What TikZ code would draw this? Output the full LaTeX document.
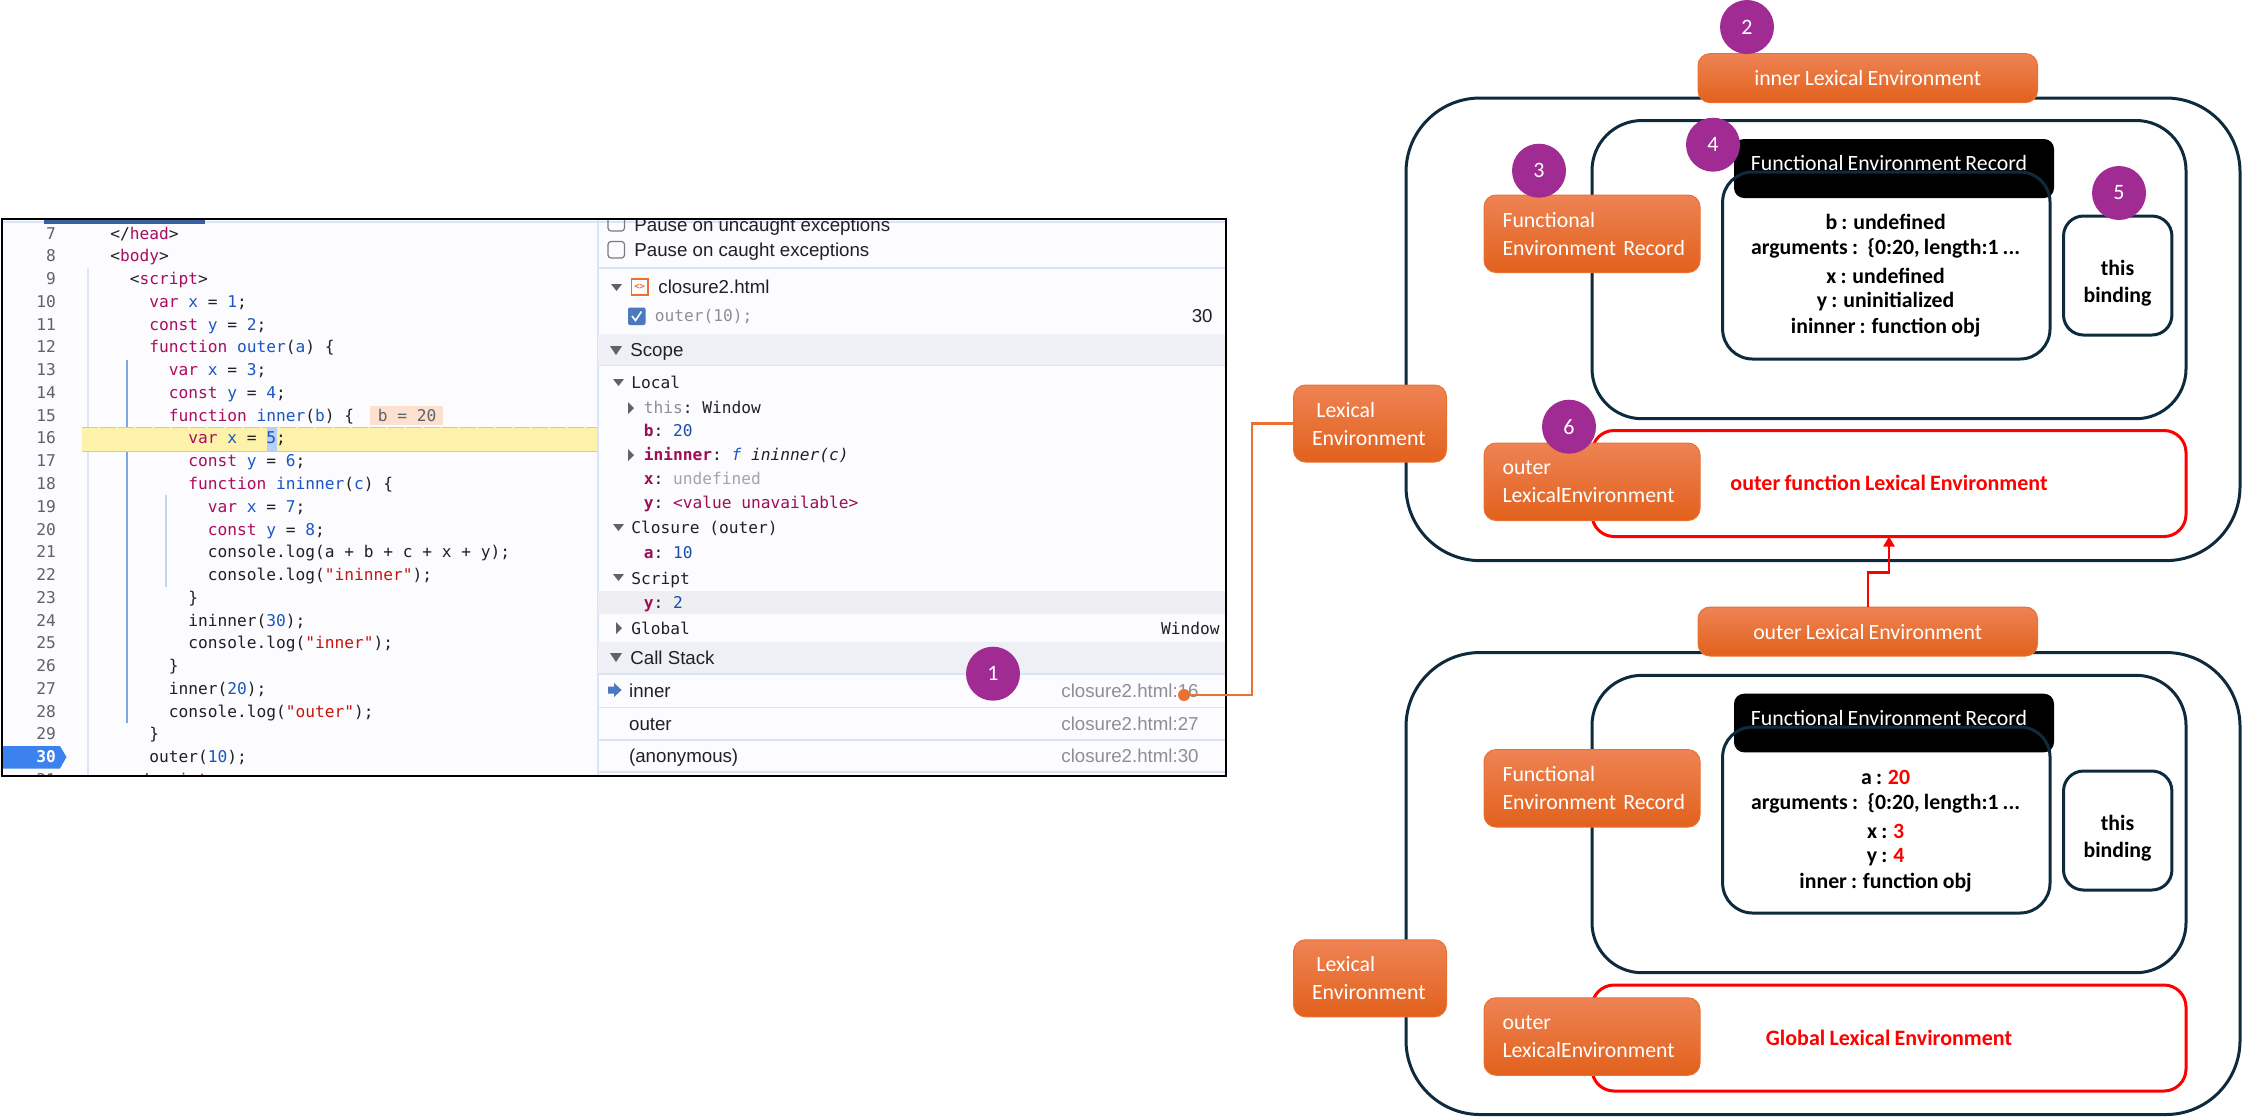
\documentclass[tikz,border=0pt]{standalone}
\usepackage{fontspec}
\setmainfont{Carlito}[WordSpace=0.85]
\setmonofont{DejaVu Sans Mono}
\newfontfamily\uifont{Liberation Sans}
\usetikzlibrary{arrows.meta}
\definecolor{navy}{HTML}{0E2B3E}
\definecolor{plum}{HTML}{A02B93}
\definecolor{orgA}{HTML}{EE8354}
\definecolor{orgB}{HTML}{F2702A}
\definecolor{orgC}{HTML}{E2611C}
\definecolor{orgL}{HTML}{E97132}
\definecolor{panelbg}{HTML}{FCFBFE}
\definecolor{sep}{HTML}{D9E4F6}
\definecolor{hdr}{HTML}{EEF0F6}
\definecolor{kwc}{HTML}{AA0D5F}
\definecolor{vrc}{HTML}{1A56C4}
\definecolor{stc}{HTML}{C4160F}
\definecolor{ink}{HTML}{202124}
\definecolor{numc}{HTML}{5F6368}
\definecolor{greyt}{HTML}{8E8E93}
\definecolor{scopekey}{HTML}{9B0F55}
\definecolor{scrollc}{HTML}{3A5F9E}
\definecolor{guideA}{HTML}{DCE6F5}
\definecolor{guideB}{HTML}{7FA8E0}
\definecolor{guideC}{HTML}{C5D7F0}
\definecolor{hlfill}{HTML}{FEF2AB}
\definecolor{hlline}{HTML}{F7CF25}
\definecolor{selc}{HTML}{B8D0F5}
\definecolor{chipc}{HTML}{FDE0D0}
\definecolor{bpc}{HTML}{3B82EE}
\definecolor{chkc}{HTML}{4D78BE}
\definecolor{numblue}{HTML}{1A4FA8}
\definecolor{rowc}{HTML}{EFEFF3}
\newcommand\ckw[1]{\textcolor{kwc}{#1}}
\newcommand\cvr[1]{\textcolor{vrc}{#1}}
\newcommand\cst[1]{\textcolor{stc}{#1}}
\newcommand\codeln[3]{%
  \node[lnum] (n#1) at (56.4,{239+22.77*(#1-7)}) {#1};
  \node[codet] (c#1) at ({110+9.75*#2},{239+22.77*(#1-7)}) {#3};}
\tikzset{
  lnum/.style={anchor=base east,inner sep=0,text=numc,font=\fontsize{8.1}{10}\ttfamily},
  codet/.style={anchor=base west,inner sep=0,text=ink,font=\fontsize{8.1}{10}\ttfamily},
  monoR/.style={anchor=base west,inner sep=0,text=ink,font=\fontsize{8.1}{10}\ttfamily},
  uit/.style={anchor=base west,inner sep=0,text=ink,font=\fontsize{9.35}{11}\uifont},
  uir/.style={anchor=base east,inner sep=0,text=greyt,font=\fontsize{9.35}{11}\uifont},
  obox/.style={rectangle,rounded corners=6pt,draw=orgL,line width=.5pt,top color=orgA,middle color=orgB,bottom color=orgC,text=white,inner sep=0,outer sep=0,font=\fontsize{10.9}{14}\selectfont},
  frameB/.style={rectangle,draw=navy,line width=1.5pt,inner sep=0,outer sep=0},
  frameR/.style={rectangle,draw=red,line width=1.5pt,rounded corners=11pt,inner sep=0,outer sep=0,minimum width=297pt,minimum height=53pt},
  blk/.style={rectangle,fill=black,rounded corners=5pt,inner sep=0,outer sep=0,minimum width=160pt},
  num/.style={circle,fill=plum,text=white,minimum size=27pt,inner sep=0,outer sep=0,font=\fontsize{11}{12}\selectfont},
  body/.style={inner sep=0,text=black,font=\fontsize{10.9}{13}\bfseries},
  sepl/.style={draw=sep,line width=.9pt},
  tri/.style={fill=numc}
}
\begin{document}
\begin{tikzpicture}[x=0.5pt,y=-0.5pt]
\useasboundingbox (0,0) rectangle (2242,1116);
% ---------- debugger panel
\begin{scope}
\clip (2,219) rectangle (1226,776);
\fill[panelbg] (2,219) rectangle (1226,776);
\draw[sepl] (2,222) -- (1226,222);
\fill[scrollc] (44,220) rectangle (205,224);
% gutter guides
\draw[guideA,line width=.6pt] (88,268) -- (88,776);
\draw[guideB,line width=.7pt] (127,360) -- (127,723);
\draw[guideC,line width=.7pt] (166,495) -- (166,587);
% highlighted line
\fill[hlfill] (82,427) rectangle (597,451.5);
\draw[hlline,line width=.5pt,dash pattern=on 8pt off 1pt] (82,427) -- (597,427);
\draw[hlline,line width=.8pt] (82,451.5) -- (597,451.5);
\fill[selc] (266.5,428) rectangle (276.6,450.5);
\node[rectangle,fill=chipc,inner sep=0,minimum width=36.7pt,minimum height=9.5pt,outer sep=0] (chip) at (406.5,415) {};
\node[codet,text=numc] (chiptxt) at (377.4,421) {b = 20};
% breakpoint marker
\fill[bpc] (2,746) -- (60,746) -- (66.5,757) -- (60,768.5) -- (2,768.5) -- cycle;
\codeln{7}{0}{</\ckw{head}>}
\codeln{8}{0}{<\ckw{body}>}
\codeln{9}{2}{<\ckw{script}>}
\codeln{10}{4}{\ckw{var} \cvr{x} = \cvr{1};}
\codeln{11}{4}{\ckw{const} \cvr{y} = \cvr{2};}
\codeln{12}{4}{\ckw{function} \cvr{outer}(\cvr{a}) \{}
\codeln{13}{6}{\ckw{var} \cvr{x} = \cvr{3};}
\codeln{14}{6}{\ckw{const} \cvr{y} = \cvr{4};}
\codeln{15}{6}{\ckw{function} \cvr{inner}(\cvr{b}) \{}
\codeln{16}{8}{\ckw{var} \cvr{x} = \cvr{5};}
\codeln{17}{8}{\ckw{const} \cvr{y} = \cvr{6};}
\codeln{18}{8}{\ckw{function} \cvr{ininner}(\cvr{c}) \{}
\codeln{19}{10}{\ckw{var} \cvr{x} = \cvr{7};}
\codeln{20}{10}{\ckw{const} \cvr{y} = \cvr{8};}
\codeln{21}{10}{console.log(a + b + c + x + y);}
\codeln{22}{10}{console.log(\cst{"ininner"});}
\codeln{23}{8}{\}}
\codeln{24}{8}{ininner(\cvr{30});}
\codeln{25}{8}{console.log(\cst{"inner"});}
\codeln{26}{6}{\}}
\codeln{27}{6}{inner(\cvr{20});}
\codeln{28}{6}{console.log(\cst{"outer"});}
\codeln{29}{4}{\}}
\node[lnum,text=white,font=\fontsize{8.1}{10}\ttfamily\bfseries] (n30) at (56.4,762.7) {30};
\node[codet] (c30) at (149,762.7) {outer(\cvr{10});};
\codeln{31}{2}{</\ckw{script}>}
% right pane
\fill[panelbg] (598,219) rectangle (1226,776);
\draw[sepl] (598,222) -- (1226,222);
\draw[sepl] (597.6,219) -- (597.6,776);
\draw[ink!60,line width=.6pt,rounded corners=1.5pt] (608,215) rectangle (624.5,231);
\draw[ink!60,line width=.6pt,rounded corners=1.5pt] (608,241.5) rectangle (624.5,258);
\node[uit] (p1) at (634,231) {Pause on uncaught exceptions};
\node[uit] (p2) at (634,256.5) {Pause on caught exceptions};
\draw[sepl] (598,268) -- (1226,268);
\fill[tri] (611,284) -- (622,284) -- (616.5,291) -- cycle;
\draw[orgL,line width=.6pt] (631.5,279) rectangle (648,295);
\node[inner sep=0,text=orgL,font=\fontsize{4.5}{5}\ttfamily\bfseries] (icon) at (639.7,286.5) {<>};
\node[uit] (file) at (658,293) {closure2.html};
\fill[chkc,rounded corners=1pt] (628,307.5) rectangle (645.5,325);
\draw[white,line width=.8pt] (632,316) -- (635.5,320.5) -- (641.5,311.5);
\node[monoR,text=greyt] (watch) at (654.4,321.5) {outer(10);};
\node[uir,text=ink] (watchnum) at (1213,322) {30};
% scope header
\fill[hdr] (598,334) rectangle (1226,365.5);
\draw[sepl] (598,365.5) -- (1226,365.5);
\fill[tri] (610,346) -- (622,346) -- (616,355) -- cycle;
\node[uit] (scope) at (630,356) {Scope};
\fill[tri] (613,379) -- (624,379) -- (618.5,386) -- cycle;
\node[monoR] (local) at (631,388.6) {Local};
\fill[tri] (628,402) -- (634,408) -- (628,414) -- cycle;
\node[monoR] (sthis) at (643.5,413.4) {\textcolor{greyt}{this}: Window};
\node[monoR] (sb) at (643.5,436.7) {\textcolor{scopekey}{\bfseries b}: \textcolor{numblue}{20}};
\fill[tri] (628,449) -- (634,455) -- (628,461) -- cycle;
\node[monoR] (sin) at (643.5,460.4) {\textcolor{scopekey}{\bfseries ininner}: \textcolor{vrc}{\itshape f} \textit{ininner(c)}};
\node[monoR] (sx) at (643.5,484) {\textcolor{scopekey}{\bfseries x}: \textcolor{greyt!80!white}{undefined}};
\node[monoR] (sy) at (643.5,508) {\textcolor{scopekey}{\bfseries y}: \textcolor{scopekey}{<value unavailable>}};
\fill[tri] (613,524) -- (624,524) -- (618.5,531) -- cycle;
\node[monoR] (closure) at (631,533.4) {Closure (outer)};
\node[monoR] (sa) at (643.5,558) {\textcolor{scopekey}{\bfseries a}: \textcolor{numblue}{10}};
\fill[tri] (613,574) -- (624,574) -- (618.5,581) -- cycle;
\node[monoR] (script) at (631,584) {Script};
\fill[rowc] (598,590.7) rectangle (1226,613.7);
\node[monoR] (sy2) at (643.5,608) {\textcolor{scopekey}{\bfseries y}: \textcolor{numblue}{2}};
\fill[tri] (616,622) -- (622,628) -- (616,634) -- cycle;
\node[monoR] (global) at (631,634) {Global};
\node[monoR,anchor=base east] (window) at (1220,634) {Window};
% call stack
\fill[hdr] (598,641.5) rectangle (1226,673.7);
\draw[sepl] (598,673.7) -- (1226,673.7);
\fill[tri] (610,653) -- (622,653) -- (616,662) -- cycle;
\node[uit] (cstack) at (630,664) {Call Stack};
\fill[chkc] (608,686.5) -- (614,686.5) -- (614,683) -- (621.6,690) -- (614,697) -- (614,693.5) -- (608,693.5) -- cycle;
\node[uit] (s1) at (628.7,697.5) {inner};
\node[uir] (s1r) at (1199,697.5) {closure2.html:16};
\draw[sepl] (598,707.4) -- (1226,707.4);
\node[uit] (s2) at (628.7,730) {outer};
\node[uir] (s2r) at (1199,730) {closure2.html:27};
\draw[sepl] (598,739.6) -- (1226,739.6);
\node[uit] (s3) at (628.7,762) {(anonymous)};
\node[uir] (s3r) at (1199,762) {closure2.html:30};
\draw[sepl] (598,772) -- (1226,772);
\end{scope}
\node[rectangle,draw=black,line width=1.2pt,minimum width=612pt,minimum height=278.5pt,inner sep=0,outer sep=0] (panel) at (614,497.5) {};
\node[num] (c1) at (993,673.7) {1};
\node[circle,fill=orgL,minimum size=6pt,inner sep=0,outer sep=0] (dot) at (1184,695) {};
% ---------- top environment
\node[frameB,rounded corners=37pt,minimum width=417pt,minimum height=231.3pt] (bigA) at (1823,329.3) {};
\node[frameB,rounded corners=25pt,minimum width=297pt,minimum height=149.1pt] (midA) at (1889,269.6) {};
\node[blk,minimum height=29.5pt] (blkA) at (1894,168.5) {};
\node[inner sep=0,text=white,font=\fontsize{10.9}{13}\selectfont] (blkAt) at (1889,162.6) {Functional Environment Record};
\node[frameB,rounded corners=15pt,minimum width=163.7pt,minimum height=93.5pt] (recA) at (1886.3,265.5) {};
\node[body] (a1) at (1885.6,222) {b : undefined};
\node[body] (a2) at (1885.6,248) {arguments :\, \{0:20, length:1 ...};
\node[body] (a3) at (1885.6,276) {x : undefined};
\node[body] (a4) at (1885.6,302) {y : uninitialized};
\node[body] (a5) at (1885.6,328) {ininner : function obj};
\node[frameB,rounded corners=10pt,minimum width=54.2pt,minimum height=59.5pt] (thisA) at (2117.7,275.5) {};
\node[body,align=center,font=\fontsize{10.9}{13.3}\bfseries] (thisAt) at (2117.5,283.3) {this\\binding};
\node[frameR] (redA) at (1889,483.5) {};
\node[inner sep=0,text=red,font=\fontsize{11}{13}\bfseries] (redAt) at (1889,483) {outer function Lexical Environment};
\node[obox,minimum width=169.75pt,minimum height=24.5pt] (innerLE) at (1867.75,78.1) {inner Lexical Environment};
\node[obox,minimum width=108pt,minimum height=38.75pt,align=left,text width=89.5pt] (funA) at (1592,233.75) {Functional\\\mbox{Environment Record}};
\node[obox,minimum width=76.5pt,minimum height=38.5pt,align=left,text width=58pt] (lexA) at (1370,423.5) {\hspace*{2.2pt}Lexical\\Environment};
\node[obox,minimum width=108pt,minimum height=38.75pt,align=left,text width=89.5pt] (outA) at (1592,481.75) {outer\\LexicalEnvironment};
\node[num] (c2) at (1747,27) {2};
\node[num] (c3) at (1539,170.7) {3};
\node[num] (c4) at (1713,144.7) {4};
\node[num] (c5) at (2119,193) {5};
\node[num] (c6) at (1569,426.7) {6};
% ---------- bottom environment
\node[frameB,rounded corners=37pt,minimum width=417pt,minimum height=231pt] (bigB) at (1823,883.5) {};
\node[frameB,rounded corners=25pt,minimum width=297pt,minimum height=148.7pt] (midB) at (1889,824) {};
\node[blk,minimum height=29.3pt] (blkB) at (1894,723) {};
\node[inner sep=0,text=white,font=\fontsize{10.9}{13}\selectfont] (blkBt) at (1889,717.5) {Functional Environment Record};
\node[frameB,rounded corners=15pt,minimum width=163.7pt,minimum height=93pt] (recB) at (1886.3,820) {};
\node[body] (b1) at (1885.6,777) {a : \textcolor{red}{20}};
\node[body] (b2) at (1885.6,803) {arguments :\, \{0:20, length:1 ...};
\node[body] (b3) at (1885.6,831) {x : \textcolor{red}{3}};
\node[body] (b4) at (1885.6,857) {y : \textcolor{red}{4}};
\node[body] (b5) at (1885.6,883) {inner : function obj};
\node[frameB,rounded corners=10pt,minimum width=54.2pt,minimum height=59.5pt] (thisB) at (2117.7,830.5) {};
\node[body,align=center,font=\fontsize{10.9}{13.3}\bfseries] (thisBt) at (2117.5,838) {this\\binding};
\node[frameR] (redB) at (1889,1038) {};
\node[inner sep=0,text=red,font=\fontsize{11}{13}\bfseries] (redBt) at (1889,1037.5) {Global Lexical Environment};
\node[obox,minimum width=169.75pt,minimum height=24.5pt] (outerLE) at (1867.75,631.5) {outer Lexical Environment};
\node[obox,minimum width=108pt,minimum height=38.75pt,align=left,text width=89.5pt] (funB) at (1592,788.3) {Functional\\\mbox{Environment Record}};
\node[obox,minimum width=76.5pt,minimum height=38.5pt,align=left,text width=58pt] (lexB) at (1370,978.3) {\hspace*{2.2pt}Lexical\\Environment};
\node[obox,minimum width=108pt,minimum height=38.75pt,align=left,text width=89.5pt] (outB) at (1592,1036.5) {outer\\LexicalEnvironment};
% ---------- connectors
\coordinate (bend) at (1252,560);
\draw[orgL,line width=1.25pt] (dot.center) -| (bend) |- (lexA.west);
\draw[red,line width=1.25pt,-{Triangle[length=5pt,width=5.5pt]}] (outerLE.north) -- ++(0,-34.4) -| (redA.south);
\end{tikzpicture}
\end{document}
